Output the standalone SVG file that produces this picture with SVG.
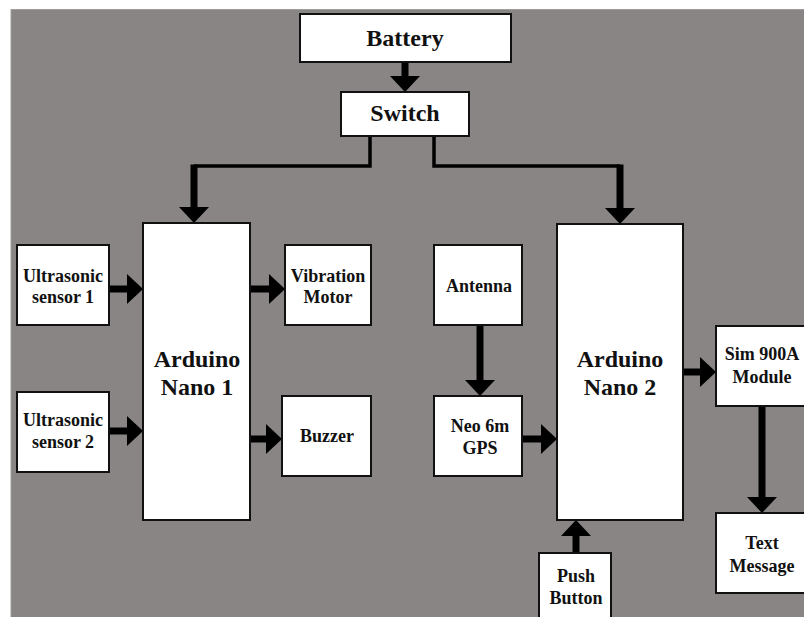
<svg xmlns="http://www.w3.org/2000/svg" width="804" height="617" viewBox="0 0 804 617">
<style>
.box{fill:#ffffff;stroke:#111111;stroke-width:2}
.lbl{font-family:"Liberation Serif","Times New Roman",serif;font-weight:bold;fill:#111111;text-anchor:middle}
.s18{font-size:18px}
.s24{font-size:24px}
.thin{fill:none;stroke:#000000;stroke-width:3.5}
.arr{fill:none;stroke:#000000;stroke-width:7;marker-end:url(#head)}
</style>
<defs>
<marker id="head" markerUnits="userSpaceOnUse" viewBox="0 -15 16 30" markerWidth="16" markerHeight="30" refX="0" refY="0" orient="auto">
<path d="M0,-15 L16,0 L0,15 Z" fill="#000000"/>
</marker>
</defs>
<rect x="0" y="0" width="804" height="617" fill="#ffffff"/>
<rect x="11" y="9.5" width="800" height="620" fill="#898584" stroke="#a09c9b" stroke-width="1"/>

<g id="connectors">
<line class="arr" x1="405" y1="62" x2="405" y2="76"/>
<polyline class="thin" points="370,136 370,166 194,166"/>
<line class="arr" x1="194" y1="164.5" x2="194" y2="207"/>
<polyline class="thin" points="434,136 434,166 620,166"/>
<line class="arr" x1="620" y1="164.5" x2="620" y2="208"/>
<line class="arr" x1="109" y1="289" x2="127" y2="289"/>
<line class="arr" x1="109" y1="431" x2="127" y2="431"/>
<line class="arr" x1="250" y1="289" x2="269" y2="289"/>
<line class="arr" x1="250" y1="439" x2="266" y2="439"/>
<line class="arr" x1="480" y1="325" x2="480" y2="380"/>
<line class="arr" x1="522" y1="439" x2="541" y2="439"/>
<line class="arr" x1="683" y1="372" x2="700" y2="372"/>
<line class="arr" x1="762" y1="406" x2="762" y2="497"/>
<line class="arr" x1="576" y1="553" x2="576" y2="536"/>
</g>

<g id="battery">
<rect class="box" x="300" y="14" width="211" height="48"/>
<text class="lbl s24" x="405" y="46">Battery</text>
</g>
<g id="switch">
<rect class="box" x="341" y="92" width="128" height="44"/>
<text class="lbl s24" x="405" y="121">Switch</text>
</g>
<g id="us1">
<rect class="box" x="17" y="245" width="92" height="80"/>
<text class="lbl s18" x="63" y="282">Ultrasonic</text>
<text class="lbl s18" x="63" y="303">sensor 1</text>
</g>
<g id="us2">
<rect class="box" x="17" y="392" width="92" height="80"/>
<text class="lbl s18" x="63" y="426">Ultrasonic</text>
<text class="lbl s18" x="63" y="448">sensor 2</text>
</g>
<g id="nano1">
<rect class="box" x="143" y="223" width="107" height="297"/>
<text class="lbl s24" x="197" y="367">Arduino</text>
<text class="lbl s24" x="197" y="395">Nano 1</text>
</g>
<g id="vibration">
<rect class="box" x="285" y="245" width="86" height="80"/>
<text class="lbl s18" x="328" y="282">Vibration</text>
<text class="lbl s18" x="328" y="303">Motor</text>
</g>
<g id="buzzer">
<rect class="box" x="282" y="396" width="89" height="80"/>
<text class="lbl s18" x="327" y="442">Buzzer</text>
</g>
<g id="antenna">
<rect class="box" x="434" y="245" width="88" height="80"/>
<text class="lbl s18" x="479" y="292">Antenna</text>
</g>
<g id="gps">
<rect class="box" x="434" y="396" width="88" height="80"/>
<text class="lbl s18" x="480" y="432">Neo 6m</text>
<text class="lbl s18" x="480" y="454">GPS</text>
</g>
<g id="nano2">
<rect class="box" x="557" y="224" width="126" height="296"/>
<text class="lbl s24" x="620" y="367">Arduino</text>
<text class="lbl s24" x="620" y="395">Nano 2</text>
</g>
<g id="sim">
<rect class="box" x="716" y="326" width="94" height="80"/>
<text class="lbl s18" x="762" y="360">Sim 900A</text>
<text class="lbl s18" x="762" y="383">Module</text>
</g>
<g id="textmsg">
<rect class="box" x="716" y="513" width="94" height="80"/>
<text class="lbl s18" x="762" y="549">Text</text>
<text class="lbl s18" x="762" y="572">Message</text>
</g>
<g id="push">
<rect class="box" x="539" y="553" width="72" height="70"/>
<text class="lbl s18" x="576" y="582">Push</text>
<text class="lbl s18" x="576" y="604">Button</text>
</g>
</svg>
